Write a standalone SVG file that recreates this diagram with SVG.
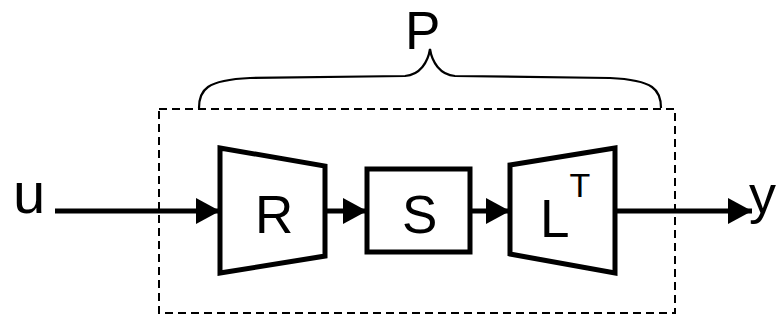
<svg xmlns="http://www.w3.org/2000/svg" width="777" height="320" viewBox="0 0 777 320">
  <defs>
    <style>
      .blk { fill: #fff; stroke: #000; stroke-width: 5; stroke-linejoin: miter; }
      .wire { fill: none; stroke: #000; stroke-width: 5; }
      .frame { fill: none; stroke: #000; stroke-width: 2; stroke-dasharray: 8 5; }
      .brace { fill: none; stroke: #000; stroke-width: 2.2; }
      .lbl { font-family: "Liberation Sans", Arial, sans-serif; fill: #000; }
    </style>
    <marker id="arrow" markerWidth="24" markerHeight="26" refX="24" refY="13" orient="auto" markerUnits="userSpaceOnUse">
      <path d="M0,0 L24,13 L0,26 Z" fill="#000"/>
    </marker>
  </defs>
  <rect width="777" height="320" fill="#fff"/>

  <!-- dashed boundary of the system P -->
  <g id="system-P">
    <rect class="frame" x="159" y="109" width="516" height="204"/>
    <path class="brace" d="M199,108 C199,90 206,80 250,78 L405,76 C420,75 428,62 430,49 C432,62 440,75 455,76 L610,78 C654,80 661,90 661,108"/>
    <text class="lbl" x="405" y="49" font-size="53">P</text>
  </g>

  <!-- connectors -->
  <g id="connectors">
    <line class="wire" x1="55" y1="211" x2="220" y2="211" marker-end="url(#arrow)"/>
    <line class="wire" x1="325" y1="211" x2="367" y2="211" marker-end="url(#arrow)"/>
    <line class="wire" x1="470" y1="211" x2="510" y2="211" marker-end="url(#arrow)"/>
    <line class="wire" x1="615" y1="211" x2="752" y2="211" marker-end="url(#arrow)"/>
  </g>

  <g id="input-u">
    <text class="lbl" x="13" y="213" font-size="58">u</text>
  </g>

  <g id="block-R">
    <polygon class="blk" points="220,148 325,166 325,256 220,273"/>
    <text class="lbl" x="255" y="233" font-size="53">R</text>
  </g>

  <g id="block-S">
    <rect class="blk" x="367" y="169" width="103" height="83"/>
    <text class="lbl" x="402" y="233" font-size="53">S</text>
  </g>

  <g id="block-LT">
    <polygon class="blk" points="510,165 615,148 615,273 510,254"/>
    <text class="lbl" x="540" y="237" font-size="53">L<tspan dy="-40" font-size="34">T</tspan></text>
  </g>

  <g id="output-y">
    <text class="lbl" x="749" y="213" font-size="54">y</text>
  </g>
</svg>
